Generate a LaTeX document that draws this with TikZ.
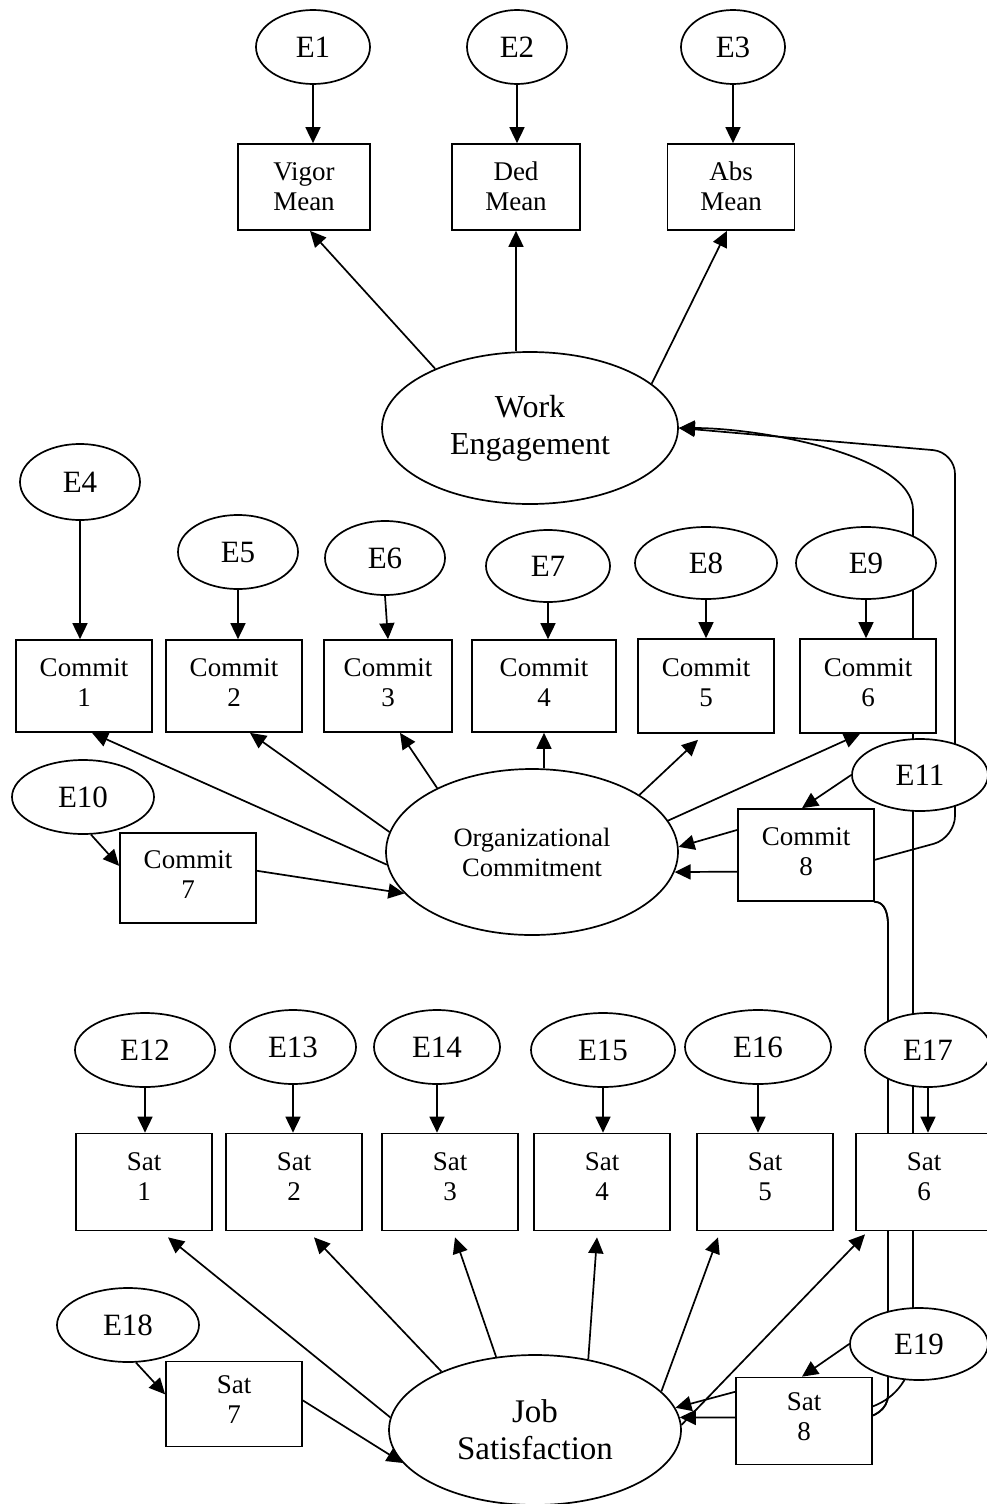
\documentclass[tikz,border=0pt]{standalone}
\usepackage{fontspec}
\setmainfont{Liberation Serif}
\usetikzlibrary{shapes.geometric, arrows.meta, backgrounds}
\tikzset{
  errnode/.style={ellipse, draw, fill=white, line width=1.7pt, inner sep=0pt, font=\fontsize{31}{34}\selectfont},
  obsbox/.style={rectangle, draw, fill=white, line width=1.7pt, inner sep=0pt, minimum width=136pt, minimum height=92pt, align=center, text depth=8pt, font=\fontsize{27}{30}\selectfont},
  latnode/.style={ellipse, draw, fill=white, line width=1.7pt, inner sep=0pt, align=center, font=\fontsize{32}{37}\selectfont},
  arr/.style={-{Triangle[length=16pt,width=15pt]}, line width=1.7pt},
}

\begin{document}
\begin{tikzpicture}[x=1pt, y=1pt]
\useasboundingbox (0,0) rectangle (987,-1504);

% work engagement block
\node[errnode, minimum width=114pt, minimum height=74pt] (e1) at (313,-47) {E1};
\node[errnode, minimum width=100pt, minimum height=74pt] (e2) at (517,-47) {E2};
\node[errnode, minimum width=104pt, minimum height=74pt] (e3) at (733,-47) {E3};
\node[obsbox, text depth=1pt, minimum width=132pt, minimum height=86pt] (vig) at (304,-187) {Vigor\\Mean};
\node[obsbox, text depth=1pt, minimum width=128pt, minimum height=86pt] (ded) at (516,-187) {Ded\\Mean};
\node[obsbox, text depth=1pt, minimum width=127pt, minimum height=86pt] (absm) at (731,-187) {Abs\\Mean};
\node[latnode, minimum width=296pt, minimum height=152pt] (we) at (530,-428) {Work\\Engagement};

% organizational commitment block
\node[errnode, minimum width=120pt, minimum height=76pt] (e4) at (80,-482) {E4};
\node[errnode, minimum width=120pt, minimum height=74pt] (e5) at (238,-552) {E5};
\node[errnode, minimum width=120pt, minimum height=74pt] (e6) at (385,-558) {E6};
\node[errnode, minimum width=124pt, minimum height=72pt] (e7) at (548,-566) {E7};
\node[errnode, minimum width=142pt, minimum height=72pt] (e8) at (706,-563) {E8};
\node[errnode, minimum width=140pt, minimum height=72pt] (e9) at (866,-563) {E9};
\node[obsbox, text depth=6pt] (c1) at (84,-686) {Commit\\1};
\node[obsbox, text depth=6pt] (c2) at (234,-686) {Commit\\2};
\node[obsbox, text depth=6pt, minimum width=128pt] (c3) at (388,-686) {Commit\\3};
\node[obsbox, text depth=6pt, minimum width=144pt] (c4) at (544,-686) {Commit\\4};
\node[obsbox, text depth=6pt, minimum height=94pt] (c5) at (706,-686) {Commit\\5};
\node[obsbox, text depth=6pt, minimum height=94pt] (c6) at (868,-686) {Commit\\6};
\node[errnode, minimum width=142pt, minimum height=74pt] (e10) at (83,-797) {E10};
\node[obsbox, text depth=6pt, minimum height=90pt] (c7) at (188,-878) {Commit\\7};
\node[latnode, minimum width=292pt, minimum height=166pt, font=\fontsize{26.5}{30}\selectfont] (oc) at (532,-852) {Organizational\\Commitment};
\node[errnode, minimum width=136pt, minimum height=72pt] (e11) at (920,-775) {E11};
\node[obsbox, text depth=6pt] (c8) at (806,-855) {Commit\\8};

% job satisfaction block
\node[errnode, minimum width=140pt, minimum height=74pt] (e12) at (145,-1050) {E12};
\node[errnode, minimum width=126pt, minimum height=74pt] (e13) at (293,-1047) {E13};
\node[errnode, minimum width=126pt, minimum height=74pt] (e14) at (437,-1047) {E14};
\node[errnode, minimum width=144pt, minimum height=74pt] (e15) at (603,-1050) {E15};
\node[errnode, minimum width=146pt, minimum height=74pt] (e16) at (758,-1047) {E16};
\node[errnode, minimum width=126pt, minimum height=74pt] (e17) at (928,-1050) {E17};
\node[obsbox, text depth=10pt, minimum height=97pt] (s1) at (144,-1182) {Sat\\1};
\node[obsbox, text depth=10pt, minimum height=97pt] (s2) at (294,-1182) {Sat\\2};
\node[obsbox, text depth=10pt, minimum height=97pt] (s3) at (450,-1182) {Sat\\3};
\node[obsbox, text depth=10pt, minimum height=97pt] (s4) at (602,-1182) {Sat\\4};
\node[obsbox, text depth=10pt, minimum height=97pt] (s5) at (765,-1182) {Sat\\5};
\node[obsbox, text depth=10pt, minimum height=97pt] (s6) at (924,-1182) {Sat\\6};
\node[errnode, minimum width=142pt, minimum height=74pt] (e18) at (128,-1325) {E18};
\node[obsbox, minimum height=85pt] (s7) at (234,-1404) {Sat\\7};
\node[latnode, minimum width=292pt, minimum height=150pt, font=\fontsize{33}{37}\selectfont] (js) at (535,-1430) {Job\\Satisfaction};
\node[errnode, minimum width=138pt, minimum height=72pt] (e19) at (919,-1344) {E19};
\node[obsbox, minimum height=87pt] (s8) at (804,-1421) {Sat\\8};

% error arrows
\foreach \e/\b in {e1/vig,e2/ded,e3/absm,e4/c1,e5/c2,e7/c4,e8/c5,e9/c6,e12/s1,e13/s2,e14/s3,e15/s4,e16/s5,e17/s6}
  \draw[arr] (\e.south) -- (\e.south |- \b.north);
\draw[arr] (e6.south) -- (c3.north);
\draw[arr] (e10.-78) -- (c7.170);
\draw[arr] (e11.west) -- ([xshift=-4pt]c8.north);
\draw[arr] (e18.-78) -- (s7.172);
\draw[arr] (e19.west) -- ([xshift=-2pt]s8.north);

% loadings
\draw[arr] (we.148) -- ([xshift=6pt]vig.south);
\draw[arr] (ded.south |- we.north) -- (ded.south);
\draw[arr] (we.20) -- ([xshift=-4pt]absm.south);
\draw[arr] (oc.185) -- ([xshift=8pt]c1.south);
\draw[arr] (oc.172) -- ([xshift=16pt]c2.south);
\draw[arr] (oc.146) -- ([xshift=12pt]c3.south);
\draw[arr] (c4.south |- oc.north) -- (c4.south);
\draw[arr] (oc.28) -- ([shift={(-8pt,-6pt)}]c5.south);
\draw[arr] (oc.13) -- ([xshift=-8pt]c6.south);
\draw[arr] (c7.6) -- (oc.198);
\draw[arr] (c8.160) -- (oc.2);
\draw[arr] (js.175) -- ([shift={(24pt,-6pt)}]s1.south);
\draw[arr] (js.148) -- ([shift={(20pt,-6pt)}]s2.south);
\draw[arr] (js.118) -- ([shift={(5pt,-6pt)}]s3.south);
\draw[arr] (js.53) -- ([shift={(-5pt,-6pt)}]s4.south);
\draw[arr] (js.17) -- ([shift={(-47pt,-6pt)}]s5.south);
\draw[arr] (js.2) -- ([shift={(-59pt,-3pt)}]s6.south);
\draw[arr] (s7.3) -- (js.194);
\draw[arr] (s8.157) -- (js.9);

% long connectors behind the boxes
\begin{scope}[on background layer]
\draw[arr, rounded corners=22pt] (c8.-4) -- (955,-838) -- (955,-452) -- (we.east);
\draw[arr] (s8.12) .. controls (895,-1398) and (913,-1378) .. (913,-1345) -- (913,-510) .. controls (913,-455) and (760,-428) .. (we.east);
\draw[arr] (c8.center) -- (c8.south east) to[out=0,in=90] (888,-925) -- (888,-1395) to[out=-90,in=0] (860,-1418) -- (js.5);
\draw[arr] (s8.center) -- (860,-1418) to[out=0,in=-90] (888,-1395) -- (888,-925) to[out=90,in=0] (c8.south east) -- (850,-871) -- (oc.-8);
\end{scope}
\end{tikzpicture}
\end{document}
